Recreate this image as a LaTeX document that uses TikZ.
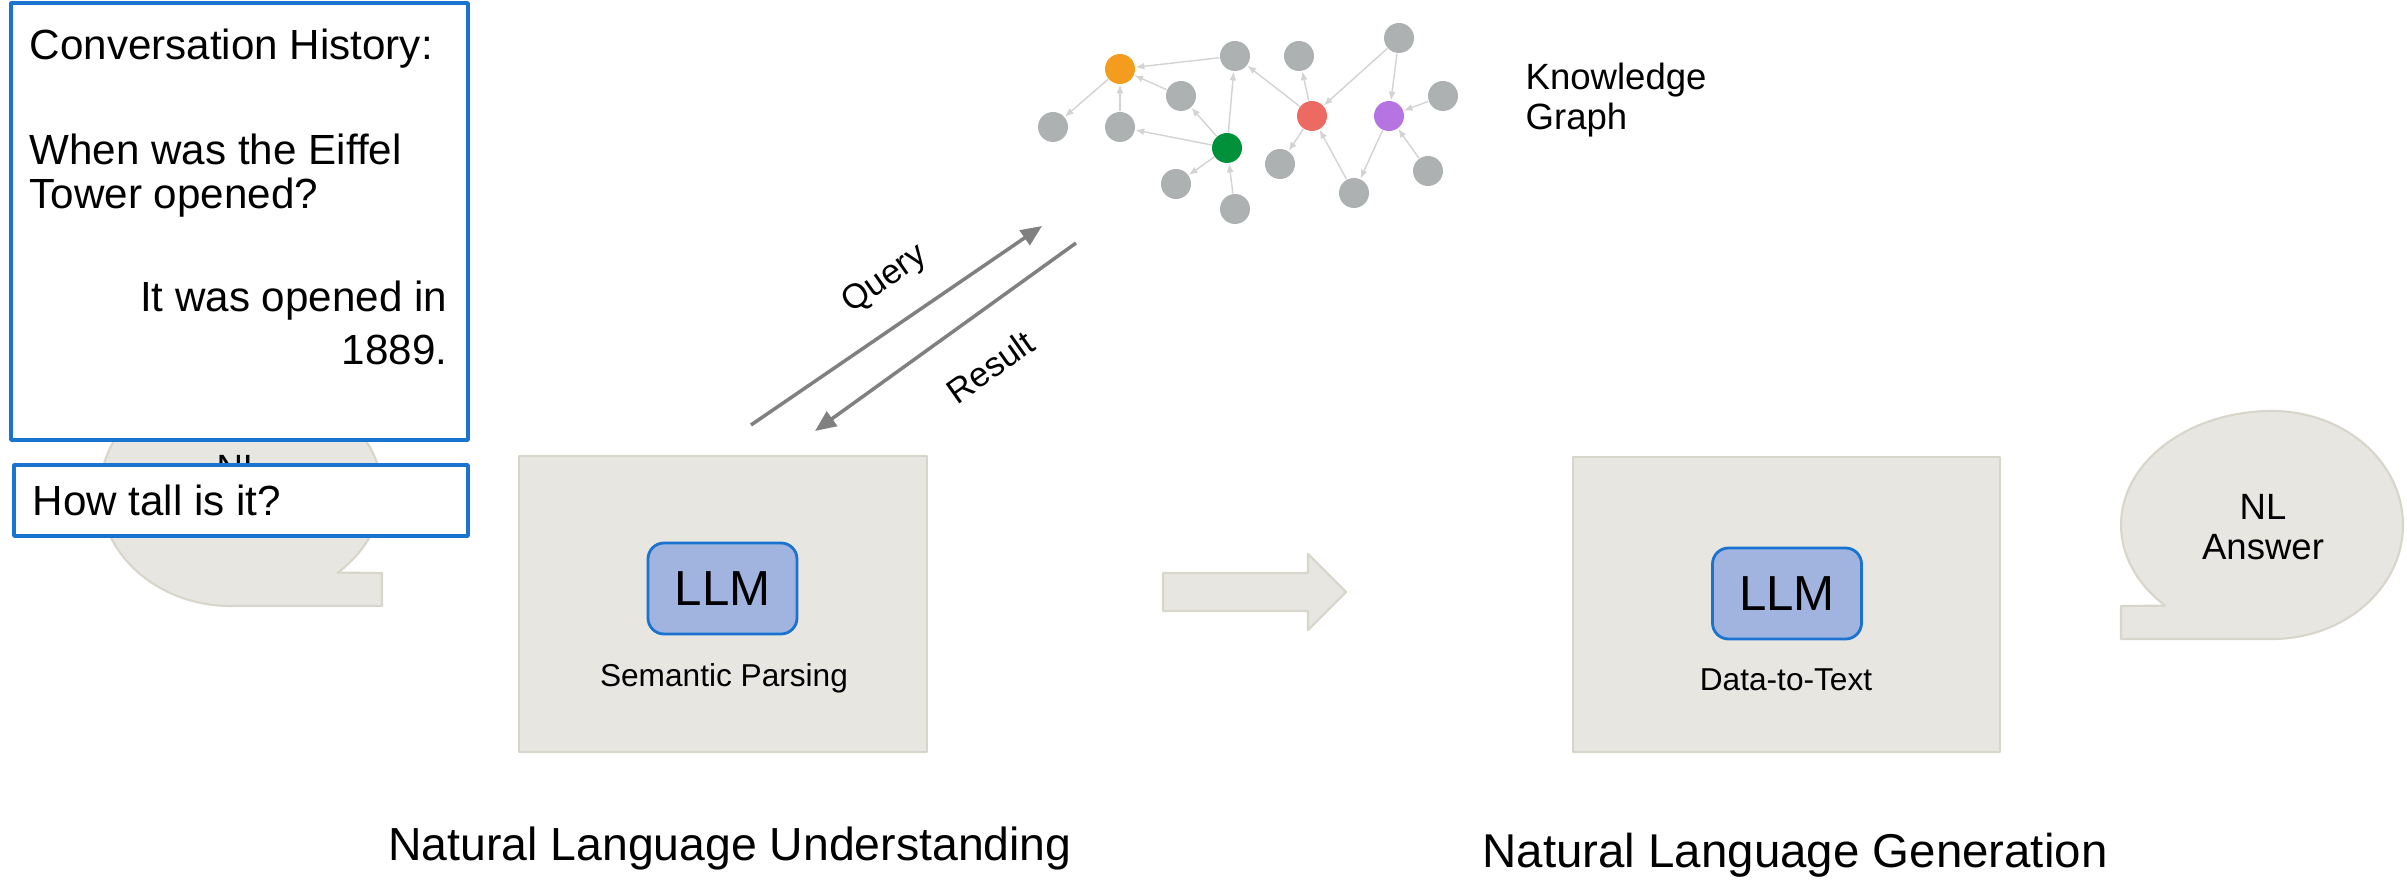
\documentclass[tikz,border=0pt]{standalone}
\usepackage{fontspec}
\setmainfont{Liberation Sans}
\usetikzlibrary{arrows.meta, calc, positioning}
\definecolor{panel}{HTML}{E8E6E0}
\definecolor{panelline}{HTML}{D8D5CB}
\definecolor{llmfill}{HTML}{A1B4E0}
\definecolor{llmblue}{HTML}{1A73CF}
\definecolor{flowgray}{HTML}{808080}
\definecolor{kggray}{HTML}{AEB1B1}
\definecolor{kgline}{HTML}{D3D3D3}
\definecolor{kgorange}{HTML}{F39C1E}
\definecolor{kgred}{HTML}{EC6A61}
\definecolor{kgpurple}{HTML}{B574E2}
\definecolor{kggreen}{HTML}{00913A}
\tikzset{
  >={Triangle[length=6pt, width=5pt]},
  every picture/.style={line join=round},
  % speech bubble with a square tail at the lower left
  bubble/.pic={
    \filldraw[draw=panelline, fill=panel, line width=0.6pt]
      (0.1,-1.14) arc[start angle=270, end angle=360, x radius=1.31, y radius=1.14]
      arc[start angle=0, end angle=90, x radius=1.31, y radius=1.14]
      arc[start angle=90, end angle=225, x radius=1.51, y radius=1.14]
      -- (-1.41,-0.81) -- (-1.41,-1.14) -- cycle;
  },
  stage/.style={draw=panelline, fill=panel, line width=0.6pt, inner sep=0pt},
  llm/.style={draw=llmblue, fill=llmfill, line width=0.8pt, rounded corners=0.16cm,
              minimum width=1.49cm, minimum height=0.91cm, inner sep=0pt,
              font=\fontsize{14}{16}\selectfont},
  task/.style={font=\fontsize{9}{11}\selectfont, inner sep=0pt},
  convbox/.style={draw=llmblue, fill=white, line width=1pt, inner sep=0pt},
  convtxt/.style={font=\fontsize{12}{14}\selectfont, inner sep=0pt},
  flow/.style={->, draw=flowgray, line width=1pt},
  flowlbl/.style={font=\fontsize{9.8}{11}\selectfont, inner sep=0pt, rotate=35.2},
  kgnode/.style={circle, fill=#1, minimum size=0.3cm, inner sep=0pt},
  kgnode/.default=kggray,
  kgedge/.style={-{Latex[length=2.5pt, width=2pt]}, draw=kgline, line width=0.4pt},
  small/.style={font=\fontsize{10.4}{11.4}\selectfont, inner sep=0pt},
  phase/.style={font=\fontsize{13.5}{15}\selectfont, inner sep=0pt},
}

\begin{document}
\begin{tikzpicture}
  \useasboundingbox (0,0) rectangle (24.07,8.80);
  % question bubble, mostly hidden by the conversation
  \pic[xscale=-1] at (2.41,3.88) {bubble};
  \node[small] (nlq) at (2.40,4.12) {NL};
  % conversation
  \node[convbox, minimum width=4.57cm, minimum height=4.37cm] (hist) at (2.395,6.585) {};
  \node[convtxt, anchor=west] (hhead) at (0.29,8.31) {Conversation History:};
  \node[convtxt, anchor=west] (turn1) at (0.29,7.31) {When was the Eiffel};
  \node[convtxt, anchor=west] (turn1b) at (0.29,6.82) {Tower opened?};
  \node[convtxt, anchor=east] (turn2) at (4.48,5.79) {It was opened in};
  \node[convtxt, anchor=east] (turn2b) at (4.48,5.30) {1889.};
  \node[convbox, minimum width=4.54cm, minimum height=0.71cm] (ques) at (2.41,3.795) {};
  \node[convtxt, anchor=west] (qtxt) at (0.32,3.80) {How tall is it?};
  % understanding stage
  \node[stage, minimum width=4.08cm, minimum height=2.96cm] (nlu) at (7.23,2.76) {};
  \node[llm] (llm1) at (7.225,2.915) {LLM};
  \node[task] (sp) at (7.24,2.02) {Semantic Parsing};
  \node[phase, font=\fontsize{13.2}{15}\selectfont] (nlulbl) at (7.30,0.31) {Natural Language Understanding};
  % hand-over arrow
  \filldraw[draw=panelline, fill=panel, line width=0.6pt]
    (11.63,3.07) -- (13.08,3.07) -- (13.08,3.26) -- (13.46,2.88)
    -- (13.08,2.50) -- (13.08,2.69) -- (11.63,2.69) -- cycle;
  % generation stage
  \node[stage, minimum width=4.27cm, minimum height=2.95cm] (nlg) at (17.865,2.755) {};
  \node[llm] (llm2) at (17.87,2.865) {LLM};
  \node[task] (d2t) at (17.86,2.00) {Data-to-Text};
  \node[phase] (nlglbl) at (17.95,0.25) {Natural Language Generation};
  % answer bubble
  \pic at (22.62,3.55) {bubble};
  \node[small, align=center] (nla) at (22.63,3.53) {NL\\Answer};
  % knowledge graph
  \foreach \n/\x/\y in {gA/12.35/8.24, gB/12.99/8.24, gC/13.99/8.42, gD/14.43/7.84,
      gE/11.81/7.84, gF/10.53/7.53, gG/11.20/7.53, gH/12.80/7.16, gI/11.76/6.96,
      gJ/12.35/6.71, gK/13.54/6.87, gL/14.28/7.09}
    \node[kgnode] (\n) at (\x,\y) {};
  \node[kgnode=kgorange] (or) at (11.20,8.11) {};
  \node[kgnode=kggreen] (gr) at (12.27,7.32) {};
  \node[kgnode=kgred] (rd) at (13.12,7.64) {};
  \node[kgnode=kgpurple] (pu) at (13.89,7.64) {};
  \foreach \a/\b in {gA/or, gE/or, gG/or, or/gF, gr/gE, gr/gG, gr/gA, gr/gI, gJ/gr,
      rd/gA, rd/gB, gC/rd, rd/gH, gK/rd, gC/pu, gD/pu, gL/pu, pu/gK}
    \draw[kgedge] (\a) -- (\b);
  \node[small, align=left, anchor=west] (kglbl) at (15.25,7.80) {Knowledge\\Graph};
  % query and result
  \coordinate (q1) at (7.51,4.55);
  \coordinate (q2) at (10.42,6.54);
  \coordinate (r1) at (10.76,6.37);
  \coordinate (r2) at (8.15,4.49);
  \draw[flow] (q1) -- (q2);
  \draw[flow] (r1) -- (r2);
  \node[flowlbl] (qlbl) at (8.85,6.00) {Query};
  \node[flowlbl] (rlbl) at (9.90,5.13) {Result};
\end{tikzpicture}
\end{document}
